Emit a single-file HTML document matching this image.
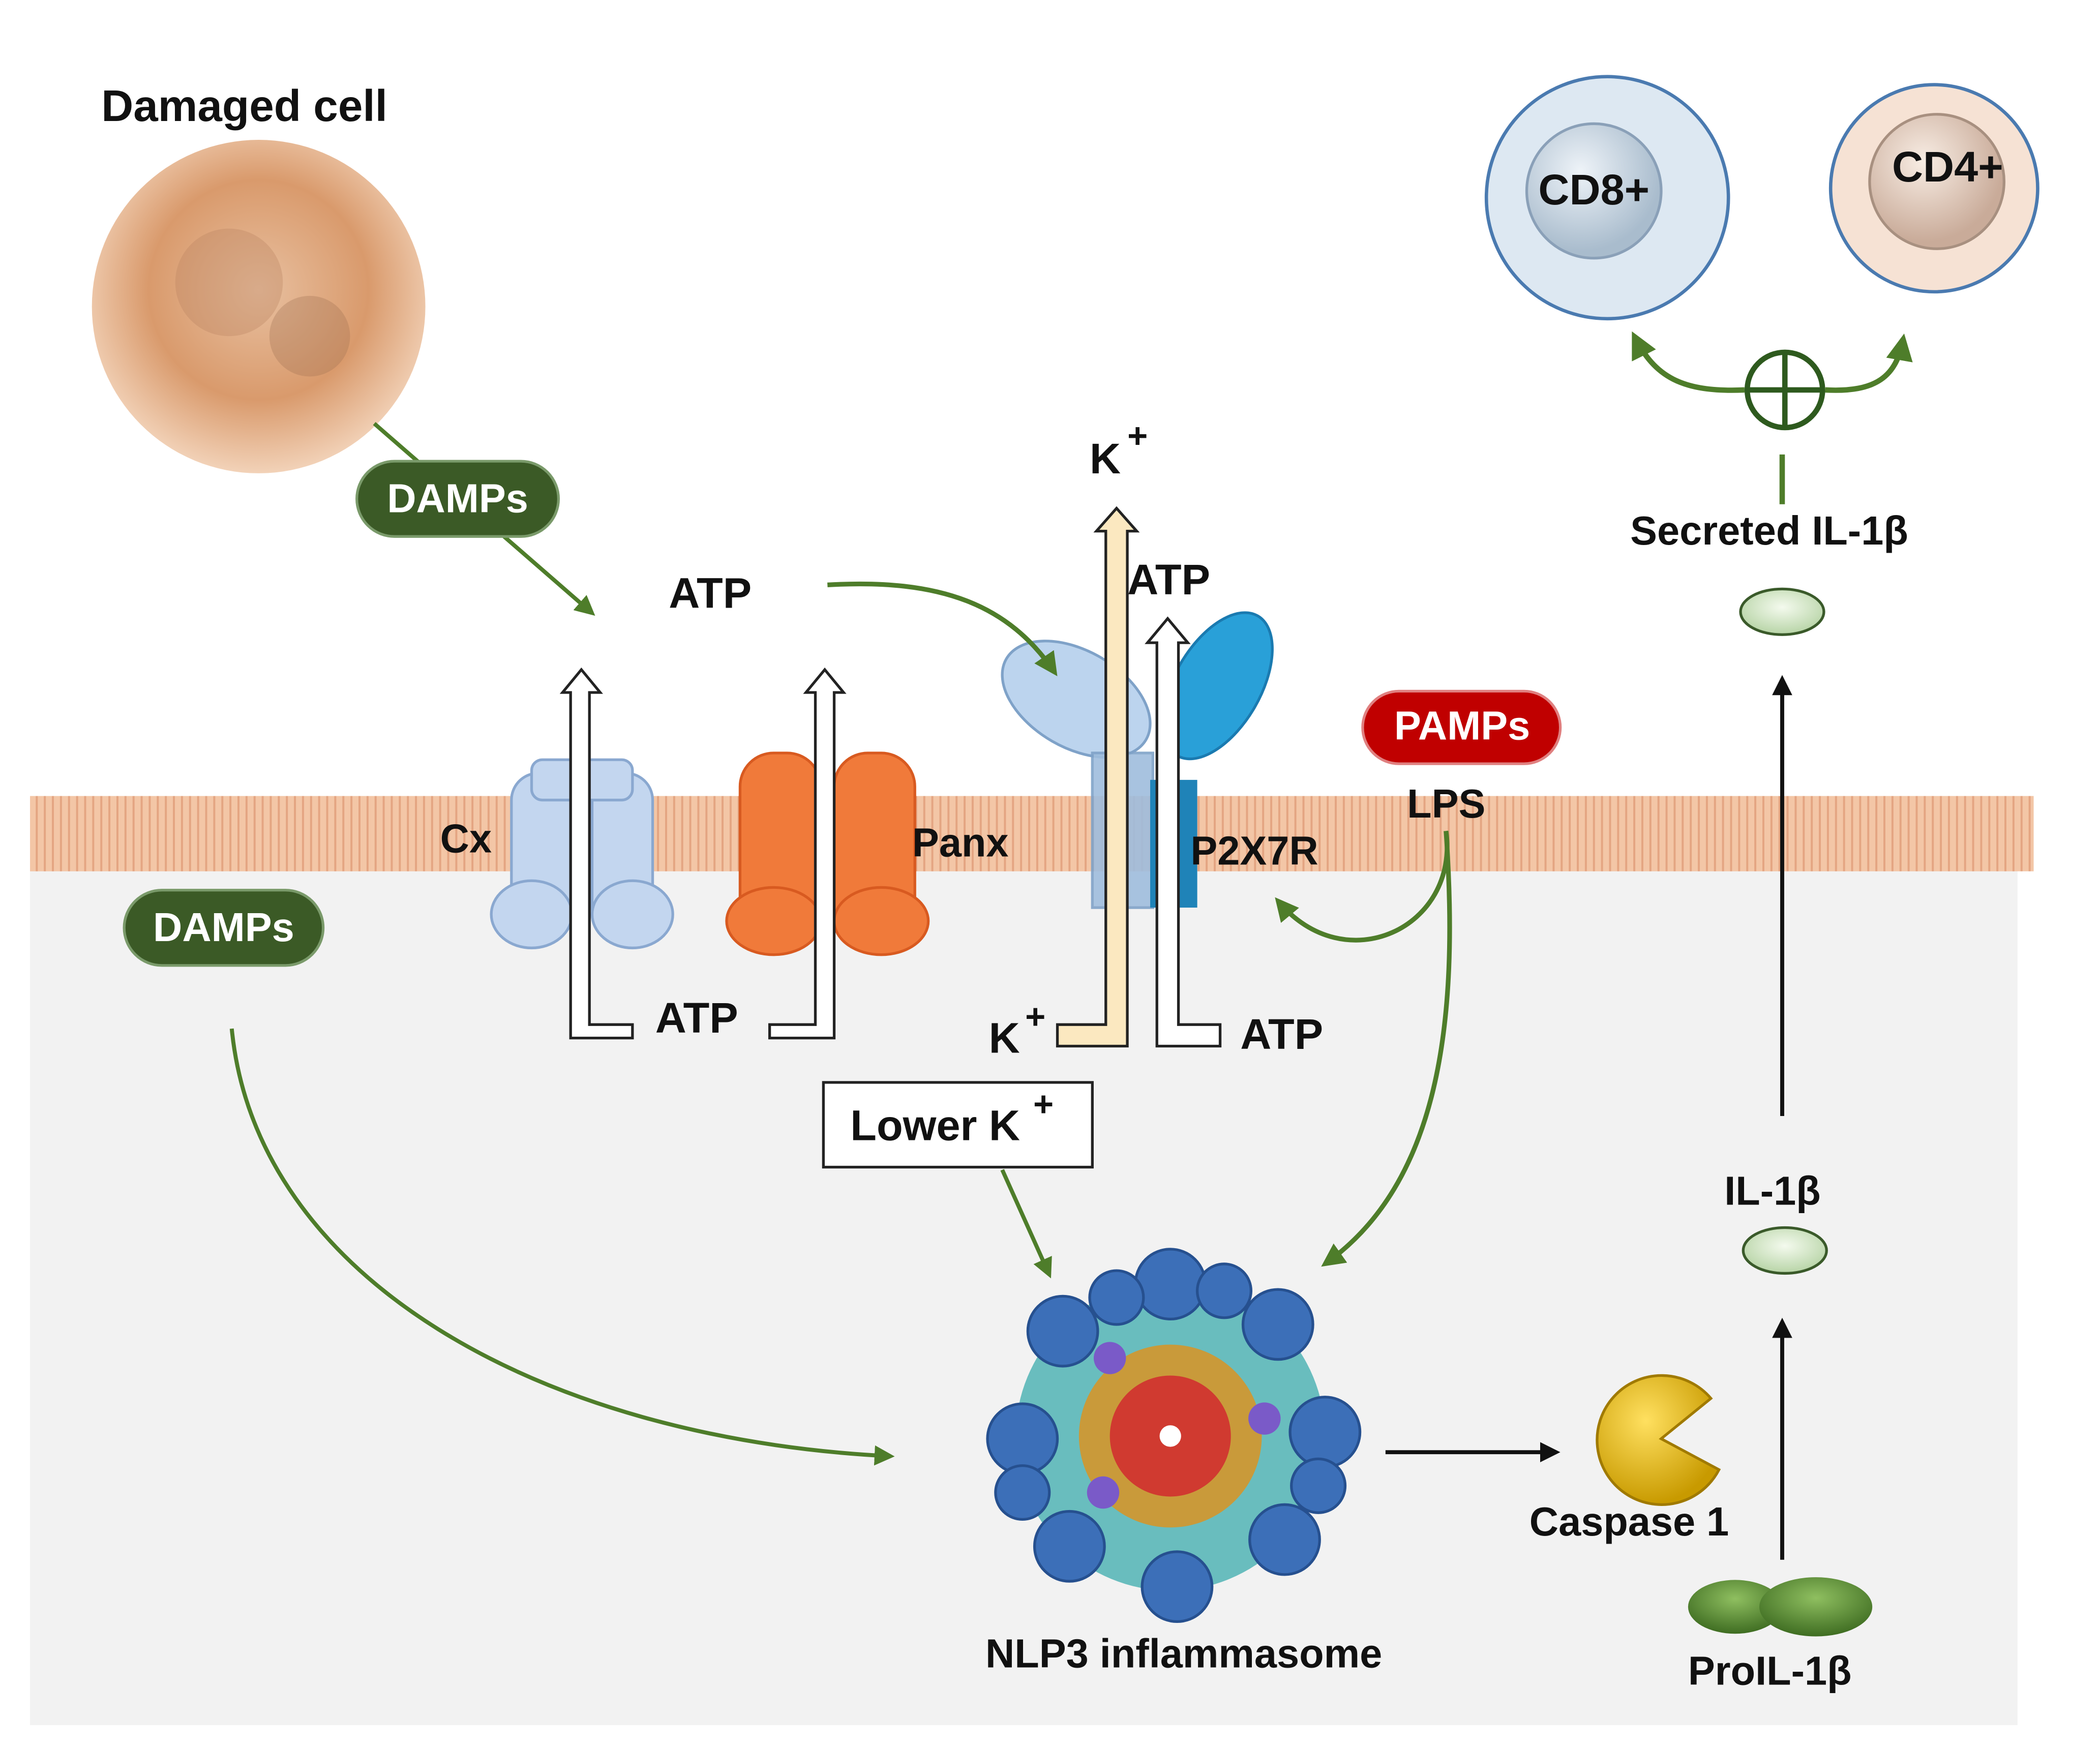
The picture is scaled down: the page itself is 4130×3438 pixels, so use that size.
<!DOCTYPE html>
<html><head><meta charset="utf-8">
<style>html,body{margin:0;padding:0;background:#fff}svg{display:block}
text{font-family:"Liberation Sans",Arial,sans-serif;font-weight:bold;fill:#111}</style></head>
<body>
<svg width="4130" height="3438" viewBox="0 0 1561 1300" xmlns="http://www.w3.org/2000/svg">
<defs>
<radialGradient id="cell" cx="50%" cy="45%" r="55%"><stop offset="0" stop-color="#e8c0a0"/><stop offset="0.6" stop-color="#d99a6c"/><stop offset="1" stop-color="#f2d2b8"/></radialGradient>
<radialGradient id="cd8" cx="40%" cy="35%" r="60%"><stop offset="0" stop-color="#eef3f8"/><stop offset="1" stop-color="#a9bccd"/></radialGradient>
<radialGradient id="cd4" cx="40%" cy="35%" r="60%"><stop offset="0" stop-color="#f8ede4"/><stop offset="1" stop-color="#c9ab99"/></radialGradient>
<radialGradient id="ov" cx="50%" cy="40%" r="60%"><stop offset="0" stop-color="#f4faee"/><stop offset="1" stop-color="#b7d4a6"/></radialGradient>
<radialGradient id="pac" cx="40%" cy="35%" r="65%"><stop offset="0" stop-color="#ffe060"/><stop offset="1" stop-color="#c89a00"/></radialGradient>
<radialGradient id="pro" cx="50%" cy="35%" r="65%"><stop offset="0" stop-color="#8fbf60"/><stop offset="1" stop-color="#3f6d22"/></radialGradient>
<pattern id="mem" width="6" height="56" patternUnits="userSpaceOnUse"><rect width="6" height="56" fill="#f3c6a6"/><line x1="3" y1="0" x2="3" y2="56" stroke="#e4a582" stroke-width="1.5"/></pattern>
<marker id="ga" viewBox="0 0 10 10" refX="8" refY="5" markerWidth="5" markerHeight="5" orient="auto"><path d="M0,0L10,5L0,10z" fill="#4e7d2a"/></marker>
<marker id="ba" viewBox="0 0 10 10" refX="8" refY="5" markerWidth="5" markerHeight="5" orient="auto"><path d="M0,0L10,5L0,10z" fill="#111"/></marker>
</defs>
<rect x="22" y="620" width="1478" height="663" fill="#f2f2f2"/>
<rect x="22" y="592" width="1490" height="56" fill="url(#mem)"/>
<circle cx="192" cy="228" r="124" fill="url(#cell)"/>
<circle cx="170" cy="210" r="40" fill="#b98560" opacity="0.35"/>
<circle cx="230" cy="250" r="30" fill="#9a6d50" opacity="0.3"/>
<text x="75" y="90" font-size="33">Damaged cell</text>
<line x1="278" y1="315" x2="440" y2="456" stroke="#4e7d2a" stroke-width="3" marker-end="url(#ga)"/>
<rect x="265" y="343" width="150" height="56" rx="28" fill="#3b5a26" stroke="#7a9a6a" stroke-width="2"/>
<text x="340" y="381" font-size="30" style="fill:#fff" text-anchor="middle">DAMPs</text>
<text x="497" y="452" font-size="32">ATP</text>
<g fill="#c3d6ef" stroke="#8aa8d0" stroke-width="2">
<rect x="380" y="575" width="45" height="120" rx="20"/><rect x="440" y="575" width="45" height="120" rx="20"/>
<ellipse cx="395" cy="680" rx="30" ry="25"/><ellipse cx="470" cy="680" rx="30" ry="25"/>
<rect x="395" y="565" width="75" height="30" rx="8"/></g>
<text x="327" y="634" font-size="30">Cx</text>
<g fill="#f07a3a" stroke="#d85a20" stroke-width="2">
<rect x="550" y="560" width="60" height="145" rx="25"/><rect x="620" y="560" width="60" height="145" rx="25"/>
<ellipse cx="575" cy="685" rx="35" ry="25"/><ellipse cx="655" cy="685" rx="35" ry="25"/></g>
<text x="678" y="637" font-size="30">Panx</text>
<g fill="#fff" stroke="#222" stroke-width="2">
<path d="M424,772 L470,772 L470,762 L438,762 L438,515 L446,515 L432,498 L418,515 L424,515Z"/>
<path d="M572,772 L620,772 L620,515 L627,515 L613,498 L599,515 L606,515 L606,762 L572,762Z"/>
</g>
<text x="487" y="768" font-size="32">ATP</text>
<g>
<ellipse cx="800" cy="520" rx="60" ry="36" transform="rotate(30 800 520)" fill="#bcd4ee" stroke="#7fa2c8" stroke-width="2"/>
<ellipse cx="905" cy="510" rx="32" ry="60" transform="rotate(30 905 510)" fill="#29a0d8" stroke="#1a7ab0" stroke-width="2"/>
<rect x="812" y="560" width="45" height="115" fill="#9fbddd" stroke="#7fa2c8" stroke-width="2" opacity="0.9"/>
<rect x="855" y="580" width="35" height="95" fill="#1f83b8"/>
</g>
<path d="M615,435 C700,430 750,450 784,500" fill="none" stroke="#4e7d2a" stroke-width="3.5" marker-end="url(#ga)"/>
<g stroke="#222" stroke-width="2">
<path d="M786,778 L838,778 L838,395 L845,395 L830,378 L815,395 L822,395 L822,762 L786,762Z" fill="#fbe8c0"/>
<path d="M907,778 L860,778 L860,478 L853,478 L868,460 L883,478 L876,478 L876,762 L907,762Z" fill="#fff"/>
</g>
<text x="810" y="352" font-size="32">K</text><text x="838" y="333" font-size="26">+</text>
<text x="838" y="442" font-size="32">ATP</text>
<text x="885" y="643" font-size="30">P2X7R</text>
<text x="735" y="783" font-size="32">K</text><text x="762" y="765" font-size="26">+</text>
<text x="922" y="780" font-size="32">ATP</text>
<rect x="1013" y="514" width="147" height="54" rx="27" fill="#c00000" stroke="#e08080" stroke-width="2"/>
<text x="1087" y="550" font-size="30" style="fill:#fff" text-anchor="middle">PAMPs</text>
<text x="1046" y="608" font-size="30">LPS</text>
<path d="M1075,618 C1085,690 1000,730 950,670" fill="none" stroke="#4e7d2a" stroke-width="3.5" marker-end="url(#ga)"/>
<path d="M1075,618 C1085,760 1070,880 985,940" fill="none" stroke="#4e7d2a" stroke-width="3.5" marker-end="url(#ga)"/>
<rect x="92" y="662" width="148" height="56" rx="28" fill="#3b5a26" stroke="#7a9a6a" stroke-width="2"/>
<text x="166" y="700" font-size="30" style="fill:#fff" text-anchor="middle">DAMPs</text>
<path d="M172,765 C190,950 400,1070 662,1083" fill="none" stroke="#4e7d2a" stroke-width="3" marker-end="url(#ga)"/>
<rect x="612" y="805" width="200" height="63" fill="#fff" stroke="#222" stroke-width="2"/>
<text x="632" y="848" font-size="32">Lower K</text><text x="768" y="830" font-size="26">+</text>
<line x1="745" y1="870" x2="780" y2="948" stroke="#4e7d2a" stroke-width="3" marker-end="url(#ga)"/>
<g>
<circle cx="870" cy="1068" r="115" fill="#2fa6a8" opacity="0.7"/>
<g fill="#3c6fb8" stroke="#26508f" stroke-width="2">
<circle cx="870" cy="955" r="26"/><circle cx="950" cy="985" r="26"/><circle cx="985" cy="1065" r="26"/><circle cx="955" cy="1145" r="26"/>
<circle cx="875" cy="1180" r="26"/><circle cx="795" cy="1150" r="26"/><circle cx="760" cy="1070" r="26"/><circle cx="790" cy="990" r="26"/>
<circle cx="910" cy="960" r="20"/><circle cx="830" cy="965" r="20"/><circle cx="760" cy="1110" r="20"/><circle cx="980" cy="1105" r="20"/>
</g>
<circle cx="870" cy="1068" r="68" fill="#c99a3a"/>
<circle cx="870" cy="1068" r="45" fill="#d03a30"/>
<circle cx="870" cy="1068" r="8" fill="#fff"/>
<circle cx="825" cy="1010" r="12" fill="#7a5ac8"/><circle cx="940" cy="1055" r="12" fill="#7a5ac8"/><circle cx="820" cy="1110" r="12" fill="#7a5ac8"/>
</g>
<text x="880" y="1240" font-size="30" text-anchor="middle">NLP3 inflammasome</text>
<line x1="1030" y1="1080" x2="1157" y2="1080" stroke="#111" stroke-width="3" marker-end="url(#ba)"/>
<path d="M1235,1070 L1272,1040 A48,48 0 1,0 1278,1093 Z" fill="url(#pac)" stroke="#a07a00" stroke-width="2"/>
<text x="1137" y="1142" font-size="30">Caspase 1</text>
<ellipse cx="1290" cy="1195" rx="35" ry="20" fill="url(#pro)"/>
<ellipse cx="1350" cy="1195" rx="42" ry="22" fill="url(#pro)"/>
<text x="1255" y="1253" font-size="30">ProIL-1β</text>
<line x1="1325" y1="1160" x2="1325" y2="983" stroke="#111" stroke-width="3" marker-end="url(#ba)"/>
<ellipse cx="1327" cy="930" rx="31" ry="17" fill="url(#ov)" stroke="#3a5a2a" stroke-width="2"/>
<text x="1282" y="896" font-size="30">IL-1β</text>
<line x1="1325" y1="830" x2="1325" y2="505" stroke="#111" stroke-width="3" marker-end="url(#ba)"/>
<ellipse cx="1325" cy="455" rx="31" ry="17" fill="url(#ov)" stroke="#3a5a2a" stroke-width="2"/>
<text x="1212" y="405" font-size="30">Secreted IL-1β</text>
<line x1="1325" y1="338" x2="1325" y2="375" stroke="#4e7d2a" stroke-width="4"/>
<circle cx="1327" cy="290" r="28" fill="#fff" stroke="#2e5a1e" stroke-width="4"/>
<line x1="1327" y1="262" x2="1327" y2="318" stroke="#2e5a1e" stroke-width="4"/>
<line x1="1299" y1="290" x2="1355" y2="290" stroke="#2e5a1e" stroke-width="4"/>
<path d="M1297,290 C1250,292 1230,280 1215,250" fill="none" stroke="#4e7d2a" stroke-width="4" marker-end="url(#ga)"/>
<path d="M1357,290 C1395,292 1410,280 1415,252" fill="none" stroke="#4e7d2a" stroke-width="4" marker-end="url(#ga)"/>
<circle cx="1195" cy="147" r="90" fill="#dde8f2" stroke="#4a7ab0" stroke-width="2.5"/>
<circle cx="1185" cy="142" r="50" fill="url(#cd8)" stroke="#8aa0b8" stroke-width="2"/>
<text x="1185" y="152" font-size="32" text-anchor="middle">CD8+</text>
<circle cx="1438" cy="140" r="77" fill="#f6e2d4" stroke="#4a7ab0" stroke-width="2.5"/>
<circle cx="1440" cy="135" r="50" fill="url(#cd4)" stroke="#a89080" stroke-width="2"/>
<text x="1448" y="135" font-size="32" text-anchor="middle">CD4+</text>
</svg>
</body></html>
